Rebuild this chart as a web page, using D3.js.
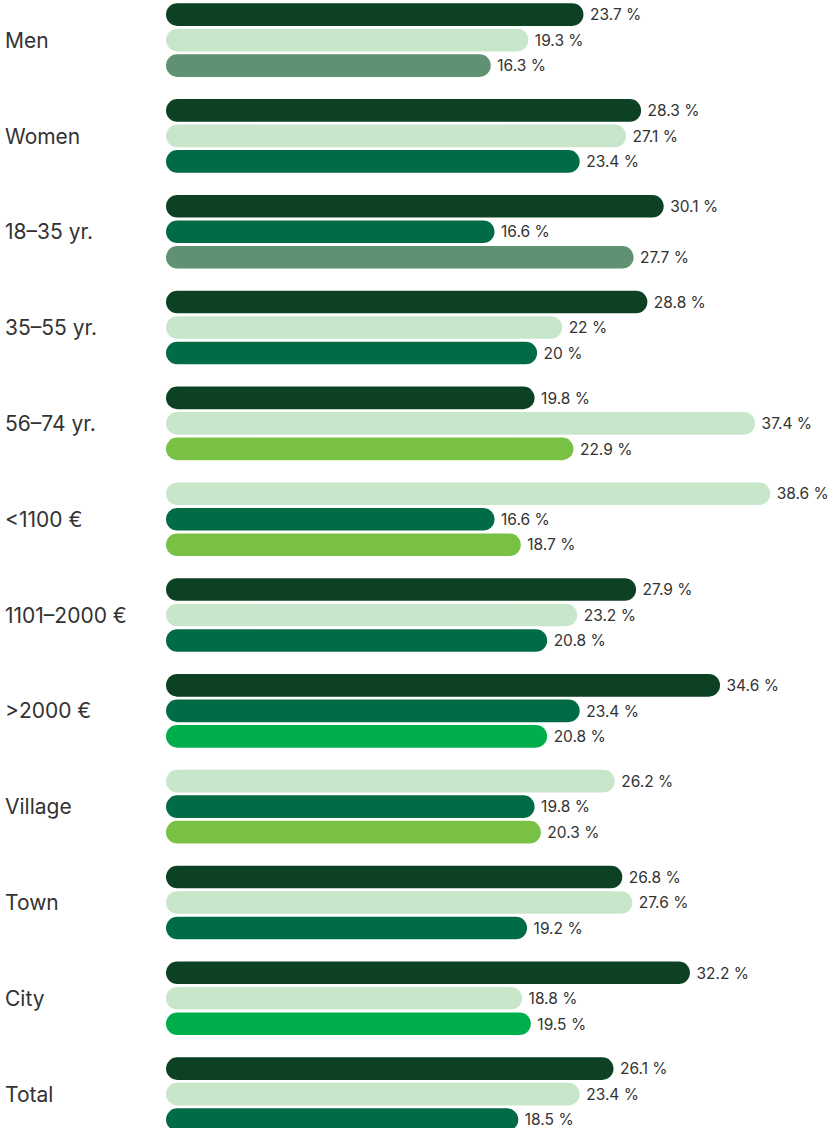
<!DOCTYPE html>
<html>
<head>
<meta charset="utf-8">
<script src="https://cdn.jsdelivr.net/npm/d3@7"></script>
<style>
  html, body { margin: 0; padding: 0; background: #ffffff; }
  svg { display: block; }
</style>
</head>
<body>
<svg id="chart" width="830" height="1128"></svg>
<script>
// ---- data ----
const categories = ["Men", "Women", "18\u201335 yr.", "35\u201355 yr.", "56\u201374 yr.", "<1100 \u20AC", "1101\u20132000 \u20AC", ">2000 \u20AC", "Village", "Town", "City", "Total"];
const firstValues  = [23.7, 28.3, 30.1, 28.8, 19.8, 38.6, 27.9, 34.6, 26.2, 26.8, 32.2, 26.1];
const secondValues = [19.3, 27.1, 16.6, 22, 37.4, 16.6, 23.2, 23.4, 19.8, 27.6, 18.8, 23.4];
const thirdValues  = [16.3, 23.4, 27.7, 20, 22.9, 18.7, 20.8, 20.8, 20.3, 19.2, 19.5, 18.5];
const firstKinds  = ["dark", "dark", "dark", "dark", "dark", "light", "dark", "dark", "light", "dark", "dark", "dark"];
const secondKinds = ["light", "light", "teal", "light", "light", "teal", "light", "teal", "teal", "light", "light", "light"];
const thirdKinds  = ["sage", "teal", "sage", "teal", "lime", "lime", "teal", "bright", "lime", "teal", "bright", "teal"];
const kindNames = ["dark", "light", "sage", "teal", "lime", "bright"];
const kindColors = ["#0c4123", "#c8e6ca", "#5f9272", "#006b45", "#78c144", "#00af4c"];

// ---- layout ----
const svg = d3.select("#chart");
const color = d3.scaleOrdinal().domain(kindNames).range(kindColors);
const xMin = -9.62;
const x = d3.scaleLinear().domain([xMin, 40]).range([166, 787.7]);
const groupStep = 95.82;
const y = d3.scaleBand()
  .domain(categories)
  .range([3.3, 3.3 + groupStep * categories.length])
  .paddingInner(0).paddingOuter(0);
const slot = d3.scaleBand().domain([0, 1, 2]).range([0, 25.5 * 3]).paddingInner(0);
const barH = 22.6;

const rows = [];
categories.forEach((c, i) => {
  const vals = [firstValues[i], secondValues[i], thirdValues[i]];
  const kinds = [firstKinds[i], secondKinds[i], thirdKinds[i]];
  vals.forEach((v, j) => rows.push({ cat: c, j, v, kind: kinds[j] }));
});

const g = svg.append("g");

g.selectAll("rect.bar").data(rows).join("rect")
  .attr("class", "bar")
  .attr("x", x(xMin))
  .attr("y", d => y(d.cat) + slot(d.j))
  .attr("width", d => x(d.v) - x(xMin))
  .attr("height", barH)
  .attr("rx", barH / 2)
  .attr("ry", barH / 2)
  .attr("fill", d => color(d.kind));

const fmt = v => String(v) + " %";

g.selectAll("text.val").data(rows).join("text")
  .attr("class", "val")
  .attr("x", d => x(d.v) + 6.5)
  .attr("y", d => y(d.cat) + slot(d.j) + barH / 2 + 5.7)
  .attr("font-family", "Inter, 'Noto Sans', sans-serif")
  .attr("font-size", 15.5)
  .attr("fill", "#333333")
  .text(d => fmt(d.v));

g.selectAll("text.cat").data(categories).join("text")
  .attr("class", "cat")
  .attr("x", 5)
  .attr("y", d => y(d) + slot(1) + barH / 2 + 7.6)
  .attr("font-family", "Inter, 'Noto Sans', sans-serif")
  .attr("font-size", 21)
  .attr("fill", "#333333")
  .text(d => d);
</script>
</body>
</html>
